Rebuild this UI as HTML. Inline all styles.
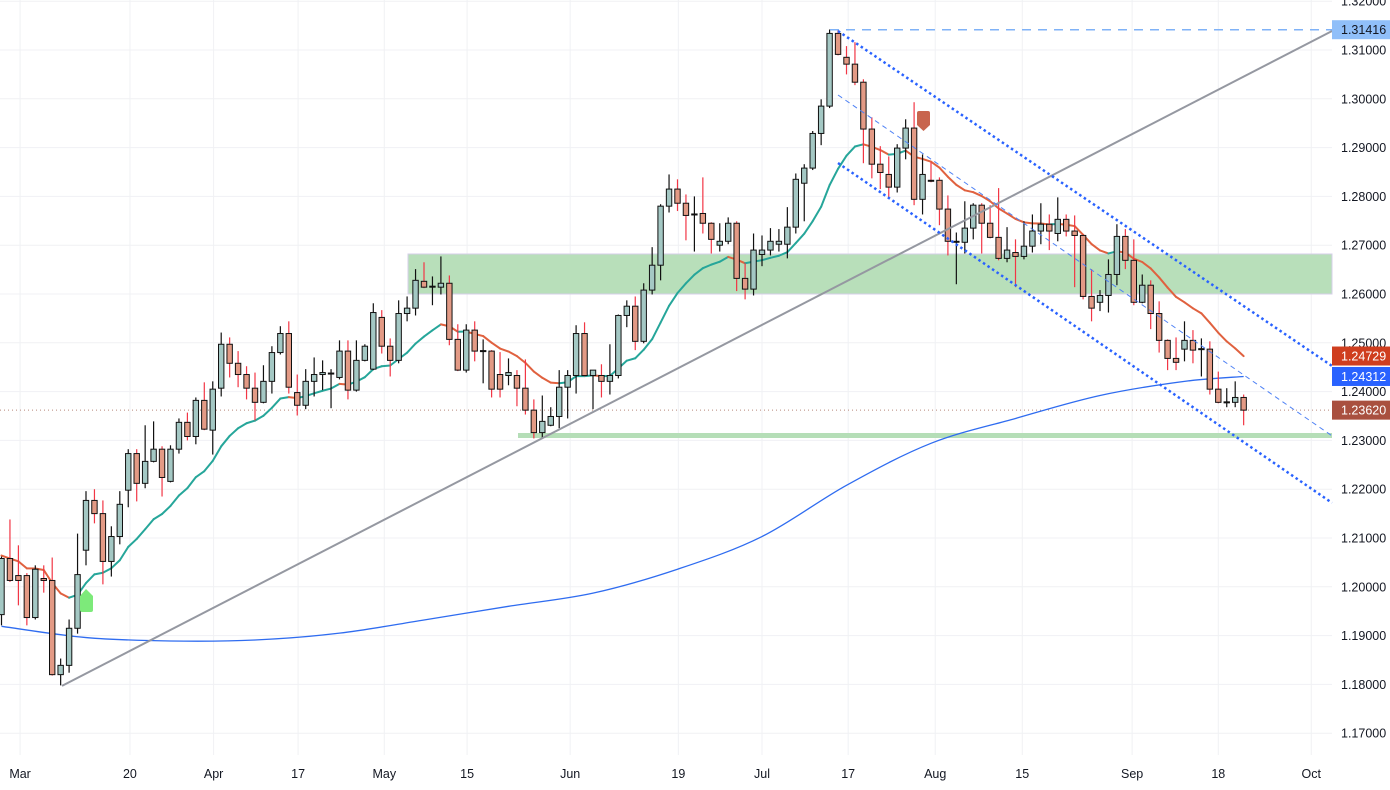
<!DOCTYPE html>
<html><head><meta charset="utf-8"><style>
html,body{margin:0;padding:0;background:#fff;}
svg{display:block;font-family:"Liberation Sans",sans-serif;}
</style></head><body>
<svg id="chart" width="1390" height="790" viewBox="0 0 1390 790" xmlns="http://www.w3.org/2000/svg">
<rect x="0" y="0" width="1390" height="790" fill="#ffffff"/>
<g id="grid"></g>
<g id="zones"></g>
<g id="mas"></g>
<g id="candles"></g>
<g id="ann"></g>
<g id="axes"></g>
</svg>
<script>
const opens=[1.1943,1.2058,1.2023,1.2023,1.1937,1.2017,1.2013,1.1820,1.1839,1.1915,1.2075,1.2177,1.2150,1.2052,1.2103,1.2198,1.2273,1.2212,1.2257,1.2282,1.2216,1.2282,1.2337,1.2308,1.2382,1.2321,1.2407,1.2497,1.2458,1.2435,1.2407,1.2378,1.2421,1.2480,1.2519,1.2398,1.2372,1.2421,1.2435,1.2437,1.2429,1.2483,1.2403,1.2464,1.2446,1.2552,1.2493,1.2464,1.2560,1.2571,1.2626,1.2615,1.2614,1.2622,1.2507,1.2444,1.2526,1.2483,1.2483,1.2435,1.2433,1.2433,1.2407,1.2362,1.2316,1.2331,1.2349,1.2409,1.2433,1.2519,1.2433,1.2433,1.2421,1.2433,1.2556,1.2575,1.2503,1.2608,1.2659,1.2780,1.2815,1.2786,1.2763,1.2765,1.2745,1.2700,1.2708,1.2745,1.2632,1.2610,1.2681,1.2690,1.2702,1.2702,1.2737,1.2827,1.2858,1.2929,1.2985,1.3134,1.3085,1.3071,1.3034,1.2938,1.2866,1.2845,1.2819,1.2899,1.2940,1.2794,1.2833,1.2833,1.2774,1.2707,1.2706,1.2735,1.2782,1.2745,1.2716,1.2673,1.2685,1.2677,1.2698,1.2729,1.2743,1.2724,1.2753,1.2729,1.2720,1.2595,1.2583,1.2597,1.2640,1.2718,1.2669,1.2583,1.2618,1.2560,1.2505,1.2468,1.2487,1.2505,1.2487,1.2487,1.2405,1.2378,1.2378,1.2388];
const highs=[1.2062,1.2138,1.2085,1.2028,1.2044,1.2044,1.2060,1.1853,1.1933,1.2109,1.2196,1.2200,1.2177,1.2124,1.2196,1.2282,1.2282,1.2331,1.2339,1.2288,1.2290,1.2345,1.2357,1.2388,1.2419,1.2421,1.2521,1.2511,1.2483,1.2452,1.2439,1.2454,1.2493,1.2534,1.2544,1.2435,1.2446,1.2470,1.2464,1.2446,1.2505,1.2505,1.2505,1.2497,1.2581,1.2567,1.2509,1.2587,1.2595,1.2651,1.2665,1.2636,1.2677,1.2638,1.2538,1.2538,1.2544,1.2507,1.2485,1.2481,1.2468,1.2444,1.2466,1.2384,1.2392,1.2368,1.2444,1.2444,1.2536,1.2542,1.2444,1.2456,1.2497,1.2558,1.2587,1.2595,1.2622,1.2696,1.2784,1.2845,1.2835,1.2804,1.2800,1.2839,1.2747,1.2745,1.2757,1.2749,1.2663,1.2724,1.2720,1.2735,1.2733,1.2778,1.2847,1.2866,1.2934,1.2999,1.3142,1.3142,1.3108,1.3116,1.3040,1.2962,1.2903,1.2882,1.2907,1.2958,1.2993,1.2886,1.2870,1.2839,1.2802,1.2726,1.2790,1.2786,1.2786,1.2782,1.2817,1.2737,1.2712,1.2749,1.2763,1.2786,1.2763,1.2798,1.2763,1.2761,1.2722,1.2651,1.2608,1.2671,1.2743,1.2733,1.2712,1.2640,1.2628,1.2585,1.2507,1.2511,1.2544,1.2526,1.2509,1.2503,1.2441,1.2407,1.2421,1.2394];
const lows=[1.1921,1.2010,1.1962,1.1921,1.1933,1.1988,1.1818,1.1798,1.1824,1.1904,1.2044,1.2130,1.2005,1.2021,1.2087,1.2163,1.2175,1.2202,1.2255,1.2185,1.2214,1.2273,1.2300,1.2292,1.2321,1.2271,1.2390,1.2429,1.2409,1.2384,1.2341,1.2376,1.2396,1.2476,1.2396,1.2351,1.2364,1.2390,1.2403,1.2366,1.2425,1.2384,1.2400,1.2462,1.2444,1.2478,1.2431,1.2458,1.2544,1.2556,1.2612,1.2577,1.2599,1.2495,1.2442,1.2439,1.2462,1.2417,1.2388,1.2388,1.2413,1.2370,1.2353,1.2304,1.2304,1.2329,1.2325,1.2345,1.2396,1.2431,1.2364,1.2388,1.2394,1.2427,1.2532,1.2485,1.2499,1.2599,1.2628,1.2767,1.2770,1.2710,1.2687,1.2724,1.2683,1.2687,1.2702,1.2606,1.2589,1.2597,1.2657,1.2679,1.2687,1.2673,1.2724,1.2749,1.2854,1.2905,1.2981,1.3089,1.3050,1.3028,1.2868,1.2837,1.2815,1.2796,1.2808,1.2876,1.2782,1.2763,1.2829,1.2741,1.2679,1.2620,1.2683,1.2712,1.2683,1.2714,1.2669,1.2665,1.2614,1.2671,1.2685,1.2702,1.2690,1.2708,1.2718,1.2614,1.2589,1.2544,1.2565,1.2562,1.2618,1.2651,1.2577,1.2581,1.2528,1.2480,1.2444,1.2444,1.2462,1.2458,1.2431,1.2394,1.2376,1.2368,1.2368,1.2331];
const closes=[1.2058,1.2013,1.2013,1.1937,1.2036,1.2013,1.1820,1.1839,1.1915,1.2025,1.2177,1.2150,1.2052,1.2103,1.2169,1.2273,1.2212,1.2257,1.2282,1.2224,1.2282,1.2337,1.2308,1.2382,1.2323,1.2405,1.2497,1.2458,1.2435,1.2407,1.2378,1.2421,1.2480,1.2519,1.2409,1.2372,1.2421,1.2435,1.2439,1.2438,1.2483,1.2403,1.2464,1.2493,1.2562,1.2493,1.2464,1.2560,1.2571,1.2628,1.2614,1.2616,1.2622,1.2507,1.2444,1.2526,1.2483,1.2484,1.2405,1.2405,1.2439,1.2407,1.2362,1.2316,1.2339,1.2349,1.2409,1.2433,1.2519,1.2433,1.2444,1.2421,1.2433,1.2556,1.2575,1.2503,1.2608,1.2659,1.2780,1.2815,1.2786,1.2761,1.2764,1.2745,1.2712,1.2708,1.2745,1.2632,1.2610,1.2690,1.2690,1.2708,1.2708,1.2737,1.2835,1.2858,1.2929,1.2985,1.3134,1.3091,1.3071,1.3034,1.2938,1.2866,1.2849,1.2819,1.2899,1.2940,1.2794,1.2845,1.2831,1.2774,1.2708,1.2708,1.2735,1.2782,1.2745,1.2716,1.2673,1.2690,1.2677,1.2698,1.2729,1.2743,1.2729,1.2753,1.2729,1.2720,1.2595,1.2571,1.2597,1.2640,1.2718,1.2669,1.2583,1.2618,1.2560,1.2505,1.2468,1.2460,1.2505,1.2485,1.2488,1.2405,1.2378,1.2379,1.2388,1.2362];
// long moving average (sampled)
const maIdx=[0,10,20,30,40,50,60,70,80,90,100,110,120,130,140,147];
const maVal=[1.1919,1.1896,1.1889,1.1891,1.1905,1.1932,1.1960,1.1987,1.2036,1.2103,1.2208,1.2294,1.2345,1.2392,1.2421,1.2431];
const priceTicks=[1.32,1.31,1.30,1.29,1.28,1.27,1.26,1.25,1.24,1.23,1.22,1.21,1.20,1.19,1.18,1.17];
const dateLabels=["Mar","20","Apr","17","May","15","Jun","19","Jul","17","Aug","15","Sep","18","Oct"];
const dateIdx=[2.2,15.2,25.1,35.1,45.3,55.1,67.3,80.1,90,100.2,110.5,120.8,133.8,144,155];
const emaSeed=1.2065, emaLen=15;

const NS="http://www.w3.org/2000/svg";
const PR=1332;
function y(p){return 50+(1.31-p)*4880;}
function x(i){return 1.5+8.45*i;}
function el(tag,attrs,parent){const e=document.createElementNS(NS,tag);for(const k in attrs)e.setAttribute(k,attrs[k]);parent.appendChild(e);return e;}
const grid=document.getElementById('grid'),zones=document.getElementById('zones'),mas=document.getElementById('mas'),cg=document.getElementById('candles'),ann=document.getElementById('ann'),axes=document.getElementById('axes');

priceTicks.forEach(p=>{const l=el('line',{x1:0,x2:PR,y1:y(p),y2:y(p),stroke:'#f0f1f4','stroke-width':1},grid);

});
dateIdx.forEach(d=>{const l=el('line',{x1:x(d),x2:x(d),y1:0,y2:755,stroke:'#f0f1f4','stroke-width':1},grid);

});

let z=el('rect',{x:408,y:y(1.2682),width:PR-408,height:y(1.2600)-y(1.2682),fill:'#b8dfba',stroke:'#d6cfe8','stroke-width':1},zones);


z=el('line',{x1:518,x2:PR,y1:y(1.2310),y2:y(1.2310),stroke:'#b5deb7','stroke-width':5},zones);


z=el('line',{x1:0,x2:PR,y1:y(closes[closes.length-1]),y2:y(closes[closes.length-1]),stroke:'#b8877a','stroke-width':1,'stroke-dasharray':'1 3'},zones);



// long MA smooth (Catmull-Rom)
const P=maIdx.map((d,k)=>[x(d),y(maVal[k])]);
let dstr='M'+P[0][0]+','+P[0][1];
for(let k=0;k<P.length-1;k++){
 const p0=P[Math.max(0,k-1)],p1=P[k],p2=P[k+1],p3=P[Math.min(P.length-1,k+2)];
 const c1=[p1[0]+(p2[0]-p0[0])/6,p1[1]+(p2[1]-p0[1])/6],c2=[p2[0]-(p3[0]-p1[0])/6,p2[1]-(p3[1]-p1[1])/6];
 dstr+=' C'+c1.join(',')+' '+c2.join(',')+' '+p2.join(',');
}
z=el('path',{d:dstr,fill:'none',stroke:'#2f6cf0','stroke-width':1.3},mas);



let ema=[],e=emaSeed,a=2/(emaLen+1);
closes.forEach(c=>{e=e+a*(c-e);ema.push(e);});
for(let i=1;i<ema.length;i++){
 const s=el('line',{x1:x(i-1),y1:y(ema[i-1]),x2:x(i),y2:y(ema[i]),stroke:ema[i]>=ema[i-1]?'#26a69a':'#e0613f','stroke-width':2,'stroke-linecap':'round'},mas);
 
 
}

for(let i=0;i<closes.length;i++){
 const o=opens[i],c=closes[i],h=highs[i],l=lows[i],up=c>=o;
 const g=el('g',{},cg);
 
 
 el('line',{x1:x(i),x2:x(i),y1:y(h),y2:y(l),stroke:up?'#111':'#f23645','stroke-width':1.2},g);
 const top=y(Math.max(o,c)),bh=Math.max(1,Math.abs(y(o)-y(c)));
 el('rect',{x:x(i)-2.7,y:top,width:5.4,height:bh,fill:up?'#a4c8c4':'#e39a85',stroke:'#111','stroke-width':1},g);
}

z=el('line',{x1:62,y1:y(1.1797),x2:1334,y2:y(1.3141),stroke:'#9598a1','stroke-width':2},ann);


z=el('line',{x1:830,y1:y(1.31416),x2:PR,y2:y(1.31416),stroke:'#7fb2f7','stroke-width':1.5,'stroke-dasharray':'9 7'},ann);


z=el('line',{x1:838,y1:31,x2:PR,y2:31+494*0.678,stroke:'#2962ff','stroke-width':2.5,'stroke-dasharray':'2.5 3'},ann);


z=el('line',{x1:838,y1:163,x2:PR,y2:163+494*0.688,stroke:'#2962ff','stroke-width':2.5,'stroke-dasharray':'2.5 3'},ann);


z=el('line',{x1:838,y1:95,x2:PR,y2:95+494*0.69,stroke:'#4f82f5','stroke-width':1,'stroke-dasharray':'5 4'},ann);


z=el('path',{d:'M917,113 Q917,111 919,111 L928,111 Q930,111 930,113 L930,125 L923.5,131 L917,125 Z',fill:'#c8654e'},ann);


z=el('path',{d:'M80,596 L86,589 L93,596 L93,610 Q93,612 91,612 L82,612 Q80,612 80,610 Z',fill:'#7dea7a'},ann);



priceTicks.forEach(p=>{const t=el('text',{x:1341,y:y(p)+4.5,'font-size':12.5,fill:'#131722'},axes);t.textContent=p.toFixed(5);

});
dateLabels.forEach((s,k)=>{const t=el('text',{x:x(dateIdx[k]),y:778,'font-size':12.5,fill:'#131722','text-anchor':'middle'},axes);t.textContent=s;

});
const tags=[[1.31416,'#90bff9','#131722','high-price-tag'],[1.24729,'#cf3e1f','#fff','ema-price-tag'],[maVal[maVal.length-1],'#2962ff','#fff','ma-price-tag'],[closes[closes.length-1],'#a9503f','#fff','last-price-tag']];
const tagText=['1.31416','1.24729','1.24312','1.23620'];
tags.forEach((tg,k)=>{const g=el('g',{},axes);
 
 
 const yy=y(tg[0]);
 el('rect',{x:1332,y:yy-9.5,width:58,height:19,fill:tg[1]},g);
 const t=el('text',{x:1341,y:yy+4.5,'font-size':12.5,fill:tg[2]},g);t.textContent=tagText[k];});
</script>
</body></html>
